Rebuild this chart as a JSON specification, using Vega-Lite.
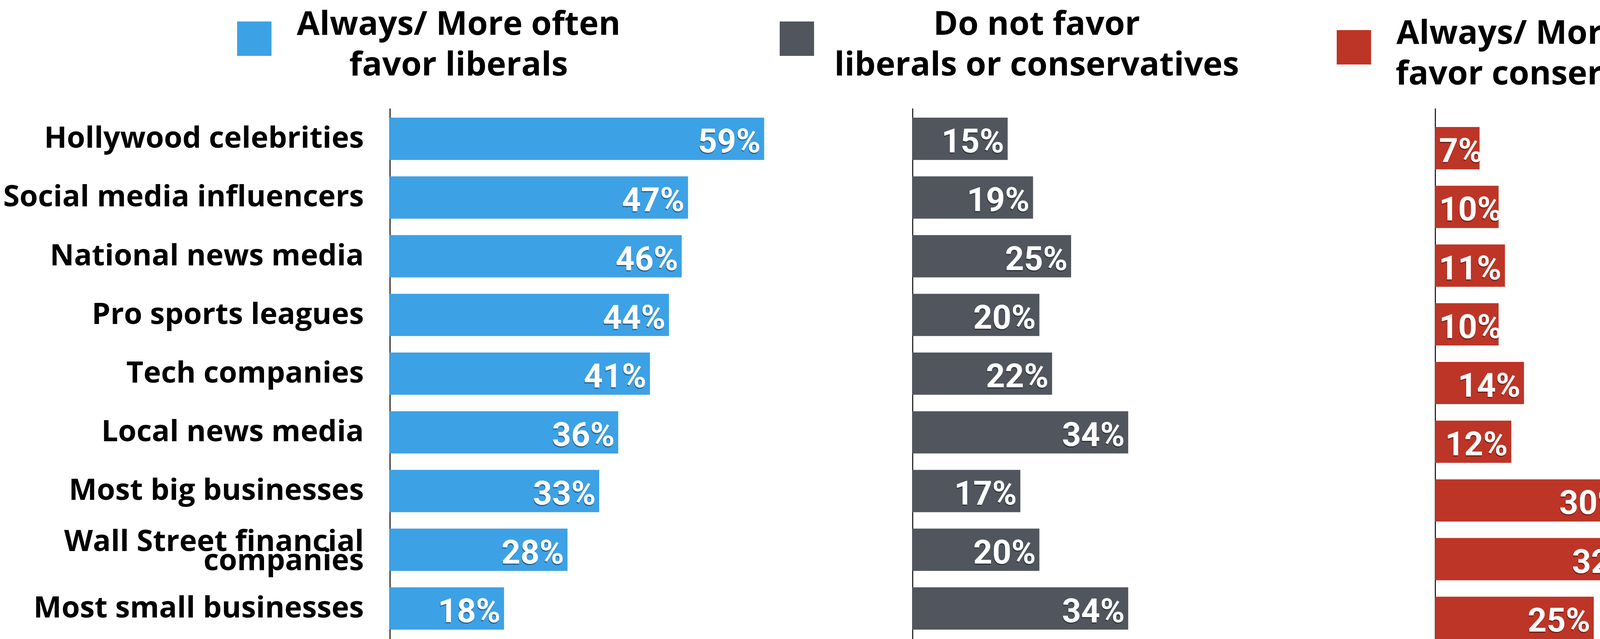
{
  "$schema": "https://vega.github.io/schema/vega-lite/v6.json",
  "background": "white",
  "padding": {"left": 7, "top": 21, "right": 10, "bottom": 0},
  "config": {
    "view": {"stroke": null},
    "axis": {"domainColor": "#000000", "domainWidth": 2.5, "ticks": false, "tickSize": 0, "grid": false, "labelFont": "Open Sans", "labelFontWeight": "bold", "labelFontSize": 76, "labelColor": "#000000"},
    "title": {"font": "Open Sans", "fontWeight": "bold", "fontSize": 85, "color": "#000000", "lineHeight": 104},
    "legend": {"orient": "none", "title": null, "labelExpr": "''", "labelFontSize": 1, "labelOpacity": 0, "symbolType": "square", "symbolSize": 7744, "symbolStrokeWidth": 0, "symbolOpacity": 1, "padding": 0}
  },
  "datasets": {
    "survey": [
      {"group": "Hollywood celebrities", "series": "Always/ More often favor liberals", "value": 59},
      {"group": "Social media influencers", "series": "Always/ More often favor liberals", "value": 47},
      {"group": "National news media", "series": "Always/ More often favor liberals", "value": 46},
      {"group": "Pro sports leagues", "series": "Always/ More often favor liberals", "value": 44},
      {"group": "Tech companies", "series": "Always/ More often favor liberals", "value": 41},
      {"group": "Local news media", "series": "Always/ More often favor liberals", "value": 36},
      {"group": "Most big businesses", "series": "Always/ More often favor liberals", "value": 33},
      {"group": "Wall Street financial companies", "series": "Always/ More often favor liberals", "value": 28},
      {"group": "Most small businesses", "series": "Always/ More often favor liberals", "value": 18},
      {"group": "Hollywood celebrities", "series": "Do not favor liberals or conservatives", "value": 15},
      {"group": "Social media influencers", "series": "Do not favor liberals or conservatives", "value": 19},
      {"group": "National news media", "series": "Do not favor liberals or conservatives", "value": 25},
      {"group": "Pro sports leagues", "series": "Do not favor liberals or conservatives", "value": 20},
      {"group": "Tech companies", "series": "Do not favor liberals or conservatives", "value": 22},
      {"group": "Local news media", "series": "Do not favor liberals or conservatives", "value": 34},
      {"group": "Most big businesses", "series": "Do not favor liberals or conservatives", "value": 17},
      {"group": "Wall Street financial companies", "series": "Do not favor liberals or conservatives", "value": 20},
      {"group": "Most small businesses", "series": "Do not favor liberals or conservatives", "value": 34},
      {"group": "Hollywood celebrities", "series": "Always/ More often favor conservatives", "value": 7},
      {"group": "Social media influencers", "series": "Always/ More often favor conservatives", "value": 10},
      {"group": "National news media", "series": "Always/ More often favor conservatives", "value": 11},
      {"group": "Pro sports leagues", "series": "Always/ More often favor conservatives", "value": 10},
      {"group": "Tech companies", "series": "Always/ More often favor conservatives", "value": 14},
      {"group": "Local news media", "series": "Always/ More often favor conservatives", "value": 12},
      {"group": "Most big businesses", "series": "Always/ More often favor conservatives", "value": 30},
      {"group": "Wall Street financial companies", "series": "Always/ More often favor conservatives", "value": 32},
      {"group": "Most small businesses", "series": "Always/ More often favor conservatives", "value": 25}
    ]
  },
  "bounds": "flush",
  "spacing": 331,
  "resolve": {"scale": {"color": "independent", "x": "independent", "y": "independent"}, "legend": {"color": "independent"}},
  "hconcat": [
    {
      "width": 1007,
      "height": 1358,
      "data": {"name": "survey"},
      "transform": [
        {"filter": "datum.series === 'Always/ More often favor liberals'"},
        {"calculate": "datum.value + '%'", "as": "label"}
      ],
      "title": {"text": ["Always/ More often", "favor liberals"], "anchor": "start", "align": "center", "baseline": "top", "frame": "group", "dx": 176, "offset": -156},
      "encoding": {
        "y": {
          "field": "group", "type": "nominal",
          "sort": ["Hollywood celebrities", "Social media influencers", "National news media", "Pro sports leagues", "Tech companies", "Local news media", "Most big businesses", "Wall Street financial companies", "Most small businesses"],
          "scale": {"paddingInner": 0.28, "paddingOuter": 0.16},
          "axis": {
            "title": null, "labelPadding": 67, "labelLineHeight": 49, "labelLimit": 2000,
            "labelOffset": {"condition": {"test": "datum.value === 'Wall Street financial companies'", "value": -20}, "value": 0},
            "labelExpr": "datum.label === 'Wall Street financial companies' ? ['Wall Street financial', 'companies'] : datum.label"
          }
        },
        "x": {"field": "value", "type": "quantitative", "scale": {"domain": [0, 62], "nice": false}, "axis": null}
      },
      "layer": [
        {
          "mark": {"type": "bar"},
          "encoding": {
            "color": {"field": "series", "type": "nominal", "scale": {"range": ["#3da1e6"]}, "legend": {"legendX": -391, "legendY": -222}}
          }
        },
        {
          "mark": {"type": "text", "align": "right", "baseline": "alphabetic", "dx": -10, "dy": 38, "font": "Roboto", "fontWeight": "bold", "fontSize": 85, "fill": "#000000", "opacity": 0.4},
          "encoding": {"text": {"field": "label"}}
        },
        {
          "mark": {"type": "text", "align": "right", "baseline": "alphabetic", "dx": -9, "dy": 35, "font": "Roboto", "fontWeight": "bold", "fontSize": 85, "fill": "#ffffff"},
          "encoding": {"text": {"field": "label"}}
        }
      ]
    },
    {
      "width": 1007,
      "height": 1358,
      "data": {"name": "survey"},
      "transform": [
        {"filter": "datum.series === 'Do not favor liberals or conservatives'"},
        {"calculate": "datum.value + '%'", "as": "label"}
      ],
      "title": {"text": ["Do not favor", "liberals or conservatives"], "anchor": "start", "align": "center", "baseline": "top", "frame": "group", "dx": 318, "offset": -156},
      "encoding": {
        "y": {
          "field": "group", "type": "nominal",
          "sort": ["Hollywood celebrities", "Social media influencers", "National news media", "Pro sports leagues", "Tech companies", "Local news media", "Most big businesses", "Wall Street financial companies", "Most small businesses"],
          "scale": {"paddingInner": 0.28, "paddingOuter": 0.16},
          "axis": {"title": null, "labels": false}
        },
        "x": {"field": "value", "type": "quantitative", "scale": {"domain": [0, 62], "nice": false}, "axis": null}
      },
      "layer": [
        {
          "mark": {"type": "bar"},
          "encoding": {
            "color": {"field": "series", "type": "nominal", "scale": {"range": ["#51565e"]}, "legend": {"legendX": -340, "legendY": -222}}
          }
        },
        {
          "mark": {"type": "text", "align": "right", "baseline": "alphabetic", "dx": -10, "dy": 38, "font": "Roboto", "fontWeight": "bold", "fontSize": 85, "fill": "#000000", "opacity": 0.4},
          "encoding": {"text": {"field": "label"}}
        },
        {
          "mark": {"type": "text", "align": "right", "baseline": "alphabetic", "dx": -9, "dy": 35, "font": "Roboto", "fontWeight": "bold", "fontSize": 85, "fill": "#ffffff"},
          "encoding": {"text": {"field": "label"}}
        }
      ]
    },
    {
      "width": 700,
      "height": 1358,
      "data": {"name": "survey"},
      "transform": [
        {"filter": "datum.series === 'Always/ More often favor conservatives'"},
        {"calculate": "datum.value + '%'", "as": "label"}
      ],
      "title": {"text": ["Always/ More often", "favor conservatives"], "anchor": "start", "align": "center", "baseline": "top", "frame": "group", "dx": 315, "offset": -157},
      "encoding": {
        "y": {
          "field": "group", "type": "nominal",
          "sort": ["Hollywood celebrities", "Social media influencers", "National news media", "Pro sports leagues", "Tech companies", "Local news media", "Most big businesses", "Wall Street financial companies", "Most small businesses"],
          "scale": {"paddingInner": 0.28, "paddingOuter": 0.16, "align": 1},
          "axis": {"title": null, "labels": false}
        },
        "x": {"field": "value", "type": "quantitative", "scale": {"domain": [0, 43.1], "nice": false}, "axis": null}
      },
      "layer": [
        {
          "mark": {"type": "bar"},
          "encoding": {
            "color": {"field": "series", "type": "nominal", "scale": {"range": ["#bd3526"]}, "legend": {"legendX": -252, "legendY": -200}}
          }
        },
        {
          "transform": [{"filter": "datum.value > 10"}],
          "mark": {"type": "text", "align": "right", "baseline": "alphabetic", "dx": -10, "dy": 38, "font": "Roboto", "fontWeight": "bold", "fontSize": 85, "fill": "#000000", "opacity": 0.4},
          "encoding": {"text": {"field": "label"}}
        },
        {
          "transform": [{"filter": "datum.value > 10"}],
          "mark": {"type": "text", "align": "right", "baseline": "alphabetic", "dx": -9, "dy": 35, "font": "Roboto", "fontWeight": "bold", "fontSize": 85, "fill": "#ffffff"},
          "encoding": {"text": {"field": "label"}}
        },
        {
          "transform": [{"filter": "datum.value <= 10"}],
          "mark": {"type": "text", "align": "left", "baseline": "alphabetic", "dx": 9, "dy": 38, "font": "Roboto", "fontWeight": "bold", "fontSize": 85, "fill": "#000000", "opacity": 0.4},
          "encoding": {"x": {"datum": 0, "type": "quantitative"}, "text": {"field": "label"}}
        },
        {
          "transform": [{"filter": "datum.value <= 10"}],
          "mark": {"type": "text", "align": "left", "baseline": "alphabetic", "dx": 10, "dy": 35, "font": "Roboto", "fontWeight": "bold", "fontSize": 85, "fill": "#ffffff"},
          "encoding": {"x": {"datum": 0, "type": "quantitative"}, "text": {"field": "label"}}
        }
      ]
    }
  ]
}
